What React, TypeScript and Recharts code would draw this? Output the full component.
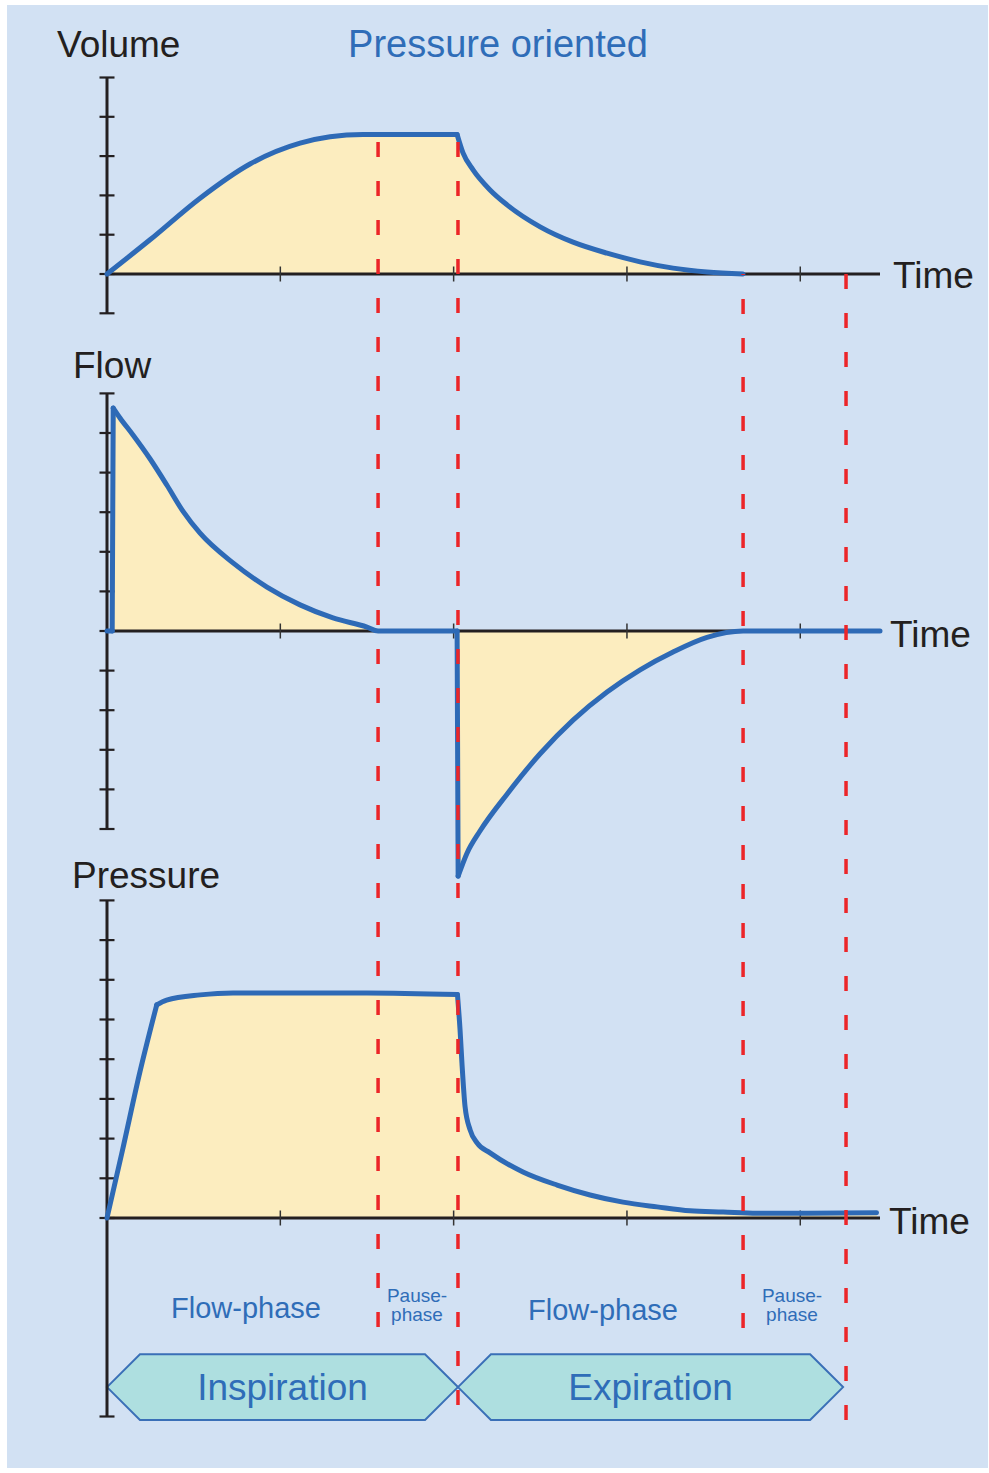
import React from 'react';
import { ComposedChart, Area, Line, XAxis, YAxis, ReferenceLine, ReferenceArea } from 'recharts';

const W = 989;
const H = 1473;
const FONT = '"Liberation Sans", Arial, Helvetica, sans-serif';
const INK = '#231f20';
const BLUE = '#2e6ab6';
const TEXT_BLUE = '#2f6db8';
const FILL = '#fcedbf';
const RED = '#ec2528';

// shared time axis
const timeEnd = 4.46;
const timeTicks = [1, 2, 3, 4];

// volume
const volTime = [0, 0.248, 0.537, 0.825, 1.114, 1.287, 1.477, 2.02, 2.054, 2.112, 2.21, 2.308, 2.499, 2.689, 2.885, 3.076, 3.266, 3.462, 3.67];
const volValue = [0, 0.87, 1.93, 2.8, 3.33, 3.49, 3.55, 3.55, 3.08, 2.65, 2.14, 1.76, 1.2, 0.81, 0.53, 0.31, 0.15, 0.05, 0];
const volCorners = [7];
const volTicks = [-1, 0, 1, 2, 3, 4, 5];

// flow
const flowTime = [0, 0.03, 0.036, 0.075, 0.15, 0.248, 0.346, 0.439, 0.537, 0.727, 0.923, 1.114, 1.304, 1.5, 1.564, 2.02, 2.026, 2.077, 2.152, 2.308, 2.499, 2.689, 2.885, 3.076, 3.266, 3.462, 3.67, 4.46];
const flowValue = [0, 0, 5.63, 5.38, 4.95, 4.35, 3.68, 3.02, 2.47, 1.72, 1.11, 0.66, 0.33, 0.1, 0, 0, -6.19, -5.61, -5.05, -4.12, -3.1, -2.25, -1.54, -0.98, -0.53, -0.16, 0, 0];
const flowCorners = [1, 2, 15, 16];
const flowTicks = [-5, -4, -3, -2, -1, 0, 1, 2, 3, 4, 5, 6];

// pressure
const presTime = [0, 0.09, 0.19, 0.287, 0.344, 0.537, 0.727, 1.5, 2.022, 2.037, 2.048, 2.066, 2.095, 2.135, 2.21, 2.4, 2.597, 2.787, 2.977, 3.174, 3.364, 3.555, 3.751, 4.039, 4.44];
const presValue = [0, 1.72, 3.68, 5.37, 5.49, 5.62, 5.67, 5.67, 5.63, 4.74, 3.9, 2.8, 2.22, 1.89, 1.64, 1.16, 0.83, 0.58, 0.4, 0.28, 0.18, 0.15, 0.12, 0.12, 0.13];
const presCorners = [3, 8];
const presTicks = [-5, 0, 1, 2, 3, 4, 5, 6, 7, 8];

// phase boundaries (red dashed guides), tops/bottoms in volume units
const guideTimes = [1.564, 2.025, 3.67, 4.264];
const guideTop = [3.36, 3.36, 0, 0];
const guideBottom = [-26.87, -29.16, -26.87, -29.16];
const guideOffset = [0, 0, 14, 0];

// inspiration / expiration arrows (pressure units)
const phaseNames = ['Inspiration', 'Expiration'];
const phaseFrom = [0, 2.025];
const phaseTo = [2.025, 4.247];

// pixel layout of the three panels
const panels: Record<string, { base: number; unit: number }> = {
  vol: { base: 274, unit: 39.3 },
  flow: { base: 631, unit: 39.6 },
  pres: { base: 1218, unit: 39.7 },
};
const domainOf = (p: { base: number; unit: number }) => [-(H - p.base) / p.unit, p.base / p.unit];
const TIME_UNIT = 773 / timeEnd;

const series = [
  { id: 'vol', ts: volTime, vs: volValue, corners: volCorners, ticks: volTicks },
  { id: 'flow', ts: flowTime, vs: flowValue, corners: flowCorners, ticks: flowTicks },
  { id: 'pres', ts: presTime, vs: presValue, corners: presCorners, ticks: presTicks },
];

// split each curve at its sharp corners so the smoothing keeps them sharp
const pieces: { key: string; axis: string }[] = [];
const rows = new Map<number, any>();
series.forEach((s) => {
  const cuts = [0, ...s.corners, s.ts.length - 1];
  for (let i = 0; i < cuts.length - 1; i++) {
    const key = `${s.id}${i}`;
    pieces.push({ key, axis: s.id });
    for (let j = cuts[i]; j <= cuts[i + 1]; j++) {
      const t = s.ts[j];
      if (!rows.has(t)) rows.set(t, { t });
      rows.get(t)[key] = s.vs[j];
    }
  }
});
const data = Array.from(rows.values()).sort((a, b) => a.t - b.t);

const Hex = (p: any) => {
  const { x, y, width, height } = p;
  const c = height / 2;
  const pts = [
    [x, y + c],
    [x + c, y],
    [x + width - c, y],
    [x + width, y + c],
    [x + width - c, y + height],
    [x + c, y + height],
  ];
  return <polygon points={pts.map((q) => q.join(',')).join(' ')} fill="#aedfe0" stroke="#3a6fb7" strokeWidth={2} />;
};

function Txt({ x, base, size, color, align = 'left', children }: any) {
  const style: React.CSSProperties = {
    position: 'absolute',
    top: base - 0.8465 * size,
    fontSize: size,
    lineHeight: `${size}px`,
    color,
    whiteSpace: 'pre',
    fontFamily: FONT,
  };
  if (align === 'center') {
    style.left = x - 150;
    style.width = 300;
    style.textAlign = 'center';
  } else {
    style.left = x;
  }
  return <div style={style}>{children}</div>;
}

const axisRange: Record<string, number[]> = { vol: [-1, 5], flow: [-5, 6], pres: [-5, 8] };
const tickHalf = 7.5;

export default function App() {
  return (
    <div style={{ position: 'absolute', left: 0, top: 0, width: W, height: H, background: '#fff', fontFamily: FONT }}>
      <div style={{ position: 'absolute', left: 7, top: 5, width: 981, height: 1463, background: '#d2e1f3' }} />
      <div style={{ position: 'absolute', left: 0, top: 0 }}>
        <ComposedChart width={W} height={H} data={data} margin={{ top: 0, right: W - 880, bottom: 0, left: 107 }}>
          <XAxis type="number" dataKey="t" domain={[0, timeEnd]} hide />
          {series.map((s) => (
            <YAxis key={s.id} yAxisId={s.id} type="number" domain={domainOf(panels[s.id])} hide />
          ))}

          {pieces.map((p) => (
            <Area
              key={`fill-${p.key}`}
              yAxisId={p.axis}
              dataKey={p.key}
              type="monotoneX"
              stroke="none"
              fill={FILL}
              fillOpacity={1}
              shapeRendering="crispEdges"
              connectNulls
              isAnimationActive={false}
            />
          ))}

          {series.map((s) => (
            <ReferenceLine key={`base-${s.id}`} yAxisId={s.id} y={0} stroke={INK} strokeWidth={3} />
          ))}
          {series.map((s) => (
            <ReferenceLine
              key={`yline-${s.id}`}
              yAxisId={s.id}
              segment={[{ x: 0, y: axisRange[s.id][0] }, { x: 0, y: axisRange[s.id][1] }]}
              stroke={INK}
              strokeWidth={3}
              ifOverflow="visible"
            />
          ))}
          {series.flatMap((s) =>
            s.ticks.map((v) => (
              <ReferenceLine
                key={`yt-${s.id}-${v}`}
                yAxisId={s.id}
                segment={[{ x: -tickHalf / TIME_UNIT, y: v }, { x: tickHalf / TIME_UNIT, y: v }]}
                stroke={INK}
                strokeWidth={2.2}
                ifOverflow="visible"
              />
            )),
          )}
          {series.flatMap((s) =>
            timeTicks.map((t) => (
              <ReferenceLine
                key={`xt-${s.id}-${t}`}
                yAxisId={s.id}
                segment={[{ x: t, y: -tickHalf / panels[s.id].unit }, { x: t, y: tickHalf / panels[s.id].unit }]}
                stroke="#333"
                strokeWidth={1.5}
                ifOverflow="visible"
              />
            )),
          )}

          {phaseNames.map((name, i) => (
            <ReferenceArea
              key={name}
              yAxisId="pres"
              x1={phaseFrom[i]}
              x2={phaseTo[i]}
              y1={-3.43}
              y2={-5.09}
              shape={<Hex />}
              label={{ value: name, position: 'center', fill: TEXT_BLUE, fontSize: 37, fontFamily: FONT }}
            />
          ))}

          {pieces.map((p) => (
            <Line
              key={`line-${p.key}`}
              yAxisId={p.axis}
              dataKey={p.key}
              type="monotoneX"
              stroke={BLUE}
              strokeWidth={5}
              dot={false}
              connectNulls
              strokeLinejoin="round"
              strokeLinecap="round"
              isAnimationActive={false}
            />
          ))}

          {guideTimes.map((t, i) => (
            <ReferenceLine
              key={`guide-${t}`}
              yAxisId="vol"
              segment={[{ x: t, y: guideTop[i] }, { x: t, y: guideBottom[i] }]}
              stroke={RED}
              strokeWidth={3.5}
              strokeDasharray="15 24"
              strokeDashoffset={guideOffset[i]}
              ifOverflow="visible"
            />
          ))}
        </ComposedChart>
      </div>

      <Txt x={57} base={57} size={37} color={INK}>Volume</Txt>
      <Txt x={498} base={57} size={38} color={TEXT_BLUE} align="center">Pressure oriented</Txt>
      <Txt x={73} base={378} size={37} color={INK}>Flow</Txt>
      <Txt x={72} base={888} size={37} color={INK}>Pressure</Txt>
      <Txt x={893} base={288} size={37} color={INK}>Time</Txt>
      <Txt x={890} base={647} size={37} color={INK}>Time</Txt>
      <Txt x={889} base={1234} size={37} color={INK}>Time</Txt>

      <Txt x={246} base={1319} size={29} color={TEXT_BLUE} align="center">Flow-phase</Txt>
      <Txt x={603} base={1321} size={29} color={TEXT_BLUE} align="center">Flow-phase</Txt>
      <Txt x={417} base={1302} size={19} color={TEXT_BLUE} align="center">{'Pause-\nphase'}</Txt>
      <Txt x={792} base={1302} size={19} color={TEXT_BLUE} align="center">{'Pause-\nphase'}</Txt>
    </div>
  );
}
